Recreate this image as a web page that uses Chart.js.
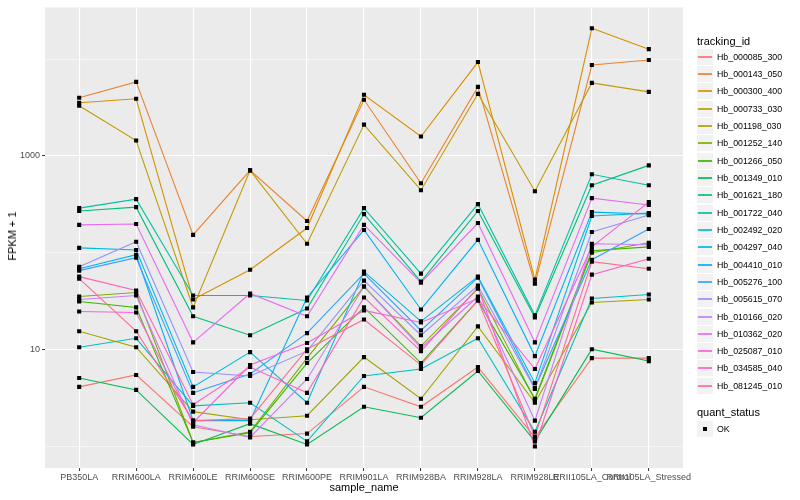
<!DOCTYPE html>
<html>
<head>
<meta charset="utf-8">
<script src="https://cdn.jsdelivr.net/npm/chart.js@4.4.0/dist/chart.umd.min.js"></script>
<style>
  body { margin: 0; background: #fff; font-family: "Liberation Sans", Arial, sans-serif; }
  #wrap { position: relative; width: 800px; height: 500px; overflow: hidden; }
  canvas { position: absolute; left: 0; top: 0; }
  .ttl { position: absolute; font-size: 11px; color: #000; white-space: nowrap; line-height: 12px; }
  .key { position: absolute; left: 697px; width: 16px; height: 16px; background: #F2F2F2; }
  .key i { position: absolute; left: 1px; right: 1px; top: 7px; height: 2px; opacity: 0.85; }
  .key b { position: absolute; left: 6px; top: 6px; width: 4px; height: 4px; background: #000; }
  .lab { position: absolute; left: 717px; font-size: 8.8px; color: #000; white-space: nowrap; line-height: 10px; }
</style>
</head>
<body>
<div id="wrap">
  <canvas id="chart" width="800" height="500"></canvas>
</div>
<script>
const categories = ['PB350LA', 'RRIM600LA', 'RRIM600LE', 'RRIM600SE', 'RRIM600PE', 'RRIM901LA',
  'RRIM928BA', 'RRIM928LA', 'RRIM928LE', 'RRII105LA_Control', 'RRII105LA_Stressed'];

const trackingIds = ['Hb_000085_300', 'Hb_000143_050', 'Hb_000300_400', 'Hb_000733_030', 'Hb_001198_030',
  'Hb_001252_140', 'Hb_001266_050', 'Hb_001349_010', 'Hb_001621_180', 'Hb_001722_040', 'Hb_002492_020',
  'Hb_004297_040', 'Hb_004410_010', 'Hb_005276_100', 'Hb_005615_070', 'Hb_010166_020', 'Hb_010362_020',
  'Hb_025087_010', 'Hb_034585_040', 'Hb_081245_010'];

// FPKM + 1, one value per sample
const hb_000085_300 = [4.13, 5.48, 1.60, 1.27, 1.36, 4.13, 2.57, 6.61, 1.24, 8.18, 8.18];
const hb_000143_050 = [3981, 5809, 153, 710, 213, 3797, 522, 5162, 48.1, 8678, 9766];
const hb_000300_400 = [3537, 3888, 33.0, 66.9, 180, 4274, 1585, 9316, 52.8, 20790, 12660];
const hb_000733_030 = [3296, 1442, 27.3, 710, 124, 2104, 443, 4375, 432, 5673, 4586];
const hb_001198_030 = [15.5, 10.6, 2.29, 1.89, 2.08, 8.38, 3.11, 17.4, 2.83, 30.7, 33.0];
const hb_001252_140 = [35.4, 38.9, 1.10, 1.42, 8.18, 44.8, 10.9, 42.7, 3.03, 100, 127];
const hb_001266_050 = [31.4, 27.3, 1.10, 1.39, 7.27, 27.3, 7.27, 32.2, 3.11, 105, 115];
const hb_001349_010 = [5.10, 3.84, 1.05, 1.72, 1.05, 2.57, 1.98, 6.02, 1.13, 10.1, 7.62];
const hb_001621_180 = [270, 296, 22.1, 14.1, 26.6, 251, 50.4, 270, 21.5, 498, 799];
const hb_001722_040 = [289, 358, 36.2, 36.2, 32.2, 289, 60.9, 318, 22.6, 646, 498];
const hb_002492_020 = [10.6, 13.1, 2.63, 2.83, 1.13, 5.35, 6.31, 13.1, 1.42, 33.7, 37.1];
const hb_004297_040 = [112.5, 107, 4.13, 9.43, 2.83, 63.9, 19.6, 56.7, 4.53, 240, 257];
const hb_004410_010 = [68.5, 95.4, 1.85, 1.85, 34.6, 172, 26.0, 136, 8.58, 263, 251];
const hb_005276_100 = [65.4, 88.9, 3.58, 5.61, 14.8, 60.9, 15.8, 55.4, 4.03, 84.8, 176];
const hb_005615_070 = [71.8, 130, 5.88, 5.35, 9.65, 51.6, 14.1, 45.9, 3.93, 164, 245];
const hb_010166_020 = [33.0, 36.2, 1.68, 1.24, 4.98, 44.8, 10.4, 35.4, 1.85, 124, 121];
const hb_010362_020 = [194, 198, 11.9, 38.0, 22.1, 194, 49.2, 203, 11.9, 367, 311];
const hb_025087_010 = [24.8, 24.2, 1.76, 6.93, 11.7, 25.4, 19.1, 33.7, 6.31, 115, 334];
const hb_034585_040 = [56.7, 40.8, 2.70, 6.61, 3.58, 34.6, 9.65, 43.8, 1.0, 59.5, 86.8];
const hb_081245_010 = [54.1, 15.5, 1.85, 1.94, 10.1, 20.5, 6.93, 32.2, 1.27, 80.9, 68.5];

const seriesValues = [hb_000085_300, hb_000143_050, hb_000300_400, hb_000733_030, hb_001198_030,
  hb_001252_140, hb_001266_050, hb_001349_010, hb_001621_180, hb_001722_040, hb_002492_020,
  hb_004297_040, hb_004410_010, hb_005276_100, hb_005615_070, hb_010166_020, hb_010362_020,
  hb_025087_010, hb_034585_040, hb_081245_010];

const yTicks = [1, 10, 100, 1000, 10000];
const yLabelled = [10, 1000];

// ggplot default hue palette, 20 levels
const hueColors = ['#F8766D', '#EA8331', '#D89000', '#C09B00', '#A3A500', '#7CAE00', '#39B600', '#00BB4E',
  '#00BF7D', '#00C1A3', '#00BFC4', '#00BAE0', '#00B0F6', '#35A2FF', '#9590FF', '#C77CFF', '#E76BF3',
  '#FA62DB', '#FF62BC', '#FF6C91'];

const FONT = '"Liberation Sans", Arial, sans-serif';
const wrap = document.getElementById('wrap');

const panelBg = {
  id: 'panelBg',
  beforeDraw(chart) {
    const { ctx, chartArea: a } = chart;
    ctx.save();
    ctx.fillStyle = '#EBEBEB';
    ctx.fillRect(a.left, a.top, a.right - a.left, a.bottom - a.top);
    ctx.restore();
  }
};

const lineSets = seriesValues.map((vals, i) => ({
  label: trackingIds[i],
  data: vals.map((v, j) => ({ x: j, y: v })),
  borderColor: hueColors[i],
  borderWidth: 1.1,
  pointRadius: 0,
  tension: 0,
  fill: false,
  order: -i
}));

const pointSet = {
  label: 'OK',
  data: seriesValues.flatMap(vals => vals.map((v, j) => ({ x: j, y: v }))),
  showLine: false,
  pointStyle: 'rect',
  pointRadius: 2.9,
  pointBackgroundColor: '#000',
  pointBorderWidth: 0,
  order: -100
};

const isMajor = v => yLabelled.includes(v);

new Chart(document.getElementById('chart'), {
  type: 'line',
  data: { datasets: [...lineSets, pointSet] },
  options: {
    responsive: false,
    animation: false,
    events: [],
    layout: { padding: { left: 0, right: 117, top: 5, bottom: 0 } },
    plugins: { legend: { display: false }, tooltip: { enabled: false } },
    scales: {
      x: {
        type: 'linear',
        min: -0.6,
        max: categories.length - 1 + 0.6,
        afterBuildTicks: s => { s.ticks = categories.map((c, i) => ({ value: i })); },
        afterFit: s => { s.height = 32; },
        border: { display: false },
        grid: { color: '#fff', lineWidth: 1.1, tickColor: '#333', tickLength: 3, tickWidth: 1 },
        ticks: {
          autoSkip: false, maxRotation: 0, minRotation: 0, padding: 1.5,
          color: '#4D4D4D', font: { size: 9, family: FONT },
          callback: v => categories[v]
        }
      },
      y: {
        type: 'logarithmic',
        min: 0.609,
        max: 34150,
        afterBuildTicks: s => { s.ticks = yTicks.map(v => ({ value: v })); },
        afterFit: s => { s.width = 45; },
        border: { display: false },
        grid: {
          color: '#fff',
          lineWidth: c => (c.tick && isMajor(c.tick.value)) ? 1.1 : 0.55,
          tickColor: c => (c.tick && isMajor(c.tick.value)) ? '#333' : 'rgba(0,0,0,0)',
          tickLength: 3,
          tickWidth: 1
        },
        ticks: {
          autoSkip: false, padding: 2,
          color: '#4D4D4D', font: { size: 9, family: FONT },
          callback: v => isMajor(v) ? String(v) : ''
        }
      }
    }
  },
  plugins: [panelBg]
});

// axis titles
const xTitle = document.createElement('div');
xTitle.className = 'ttl';
xTitle.textContent = 'sample_name';
xTitle.style.left = '364px';
xTitle.style.top = '481px';
xTitle.style.transform = 'translateX(-50%)';
wrap.appendChild(xTitle);

const yTitle = document.createElement('div');
yTitle.className = 'ttl';
yTitle.textContent = 'FPKM + 1';
yTitle.style.left = '12px';
yTitle.style.top = '236px';
yTitle.style.transform = 'translate(-50%, -50%) rotate(-90deg)';
wrap.appendChild(yTitle);

// legend
const addTitle = (text, cy) => {
  const d = document.createElement('div');
  d.className = 'ttl';
  d.textContent = text;
  d.style.left = '697px';
  d.style.top = Math.round(cy - 6) + 'px';
  wrap.appendChild(d);
};

addTitle('tracking_id', 40.5);
trackingIds.forEach((id, i) => {
  const cy = Math.round(56.7 + i * 17.32);
  const k = document.createElement('div');
  k.className = 'key';
  k.style.top = (cy - 8) + 'px';
  const ln = document.createElement('i');
  ln.style.background = hueColors[i];
  k.appendChild(ln);
  wrap.appendChild(k);
  const l = document.createElement('div');
  l.className = 'lab';
  l.textContent = id;
  l.style.top = (cy - 5) + 'px';
  wrap.appendChild(l);
});

addTitle('quant_status', 412.3);
const okKey = document.createElement('div');
okKey.className = 'key';
okKey.style.top = (429 - 8) + 'px';
okKey.appendChild(document.createElement('b'));
wrap.appendChild(okKey);
const okLab = document.createElement('div');
okLab.className = 'lab';
okLab.textContent = 'OK';
okLab.style.top = (429 - 5) + 'px';
wrap.appendChild(okLab);
</script>
</body>
</html>
